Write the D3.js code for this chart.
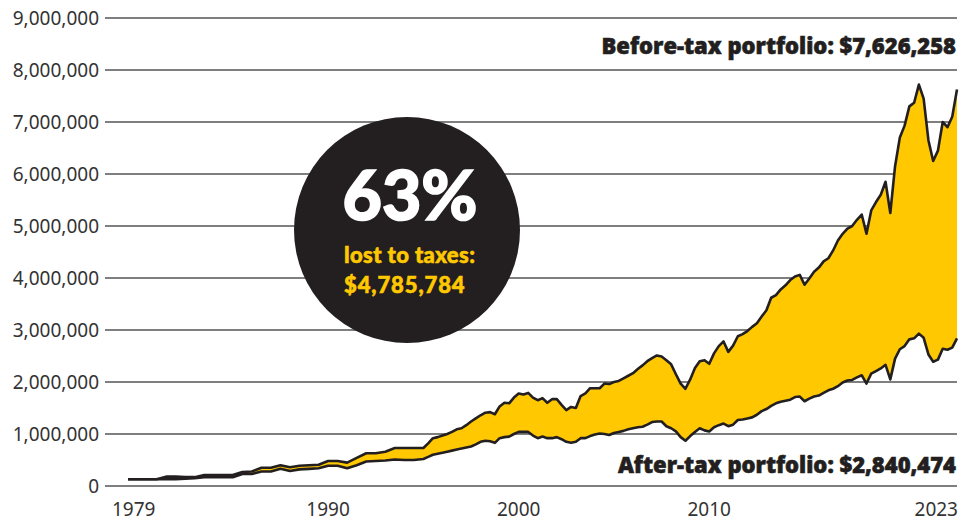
<!DOCTYPE html>
<html>
<head>
<meta charset="utf-8">
<script src="https://cdn.jsdelivr.net/npm/d3@7"></script>
<style>
  body { margin: 0; background: #fff; }
</style>
</head>
<body>
<svg width="966" height="521" font-family="Noto Sans, sans-serif"></svg>
<script>
// half-yearly to 1994, then quarterly (decimal years)
const years = [
  1979.5, 1980, 1980.5, 1981, 1981.5, 1982, 1982.5, 1983, 1983.5, 1984, 1984.5,
  1985, 1985.5, 1986, 1986.5, 1987, 1987.5, 1988, 1988.5, 1989, 1989.5,
  1990, 1990.5, 1991, 1991.5, 1992, 1992.5, 1993, 1993.5, 1994, 1994.5,
  1995, 1995.25, 1995.5, 1995.75, 1996, 1996.25, 1996.5, 1996.75,
  1997, 1997.25, 1997.5, 1997.75, 1998, 1998.25, 1998.5, 1998.75,
  1999, 1999.25, 1999.5, 1999.75, 2000, 2000.25, 2000.5, 2000.75,
  2001, 2001.25, 2001.5, 2001.75, 2002, 2002.25, 2002.5, 2002.75,
  2003, 2003.25, 2003.5, 2003.75, 2004, 2004.25, 2004.5, 2004.75,
  2005, 2005.25, 2005.5, 2005.75, 2006, 2006.25, 2006.5, 2006.75,
  2007, 2007.25, 2007.5, 2007.75, 2008, 2008.25, 2008.5, 2008.75,
  2009, 2009.25, 2009.5, 2009.75, 2010, 2010.25, 2010.5, 2010.75,
  2011, 2011.25, 2011.5, 2011.75, 2012, 2012.25, 2012.5, 2012.75,
  2013, 2013.25, 2013.5, 2013.75, 2014, 2014.25, 2014.5, 2014.75,
  2015, 2015.25, 2015.5, 2015.75, 2016, 2016.25, 2016.5, 2016.75,
  2017, 2017.25, 2017.5, 2017.75, 2018, 2018.25, 2018.5, 2018.75,
  2019, 2019.25, 2019.5, 2019.75, 2020, 2020.25, 2020.5, 2020.75,
  2021, 2021.25, 2021.5, 2021.75, 2022, 2022.25, 2022.5, 2022.75,
  2023
];

// portfolio values, millions of dollars
const beforeTax = [
  .13, .13, .13, .13, .18, .18, .17, .17, .21, .21, .21,
  .21, .27, .28, .35, .35, .40, .36, .39, .40, .41,
  .48, .48, .45, .54, .63, .63, .66, .73, .73, .73,
  .73, .82, .92, .94, .97, 1.00, 1.04, 1.09,
  1.11, 1.17, 1.24, 1.30, 1.36, 1.41, 1.42, 1.38,
  1.53, 1.60, 1.59, 1.70, 1.78, 1.76, 1.79, 1.70,
  1.65, 1.69, 1.60, 1.67, 1.67, 1.56, 1.46, 1.52,
  1.50, 1.73, 1.78, 1.88, 1.88, 1.88, 1.97, 1.96,
  2.00, 2.02, 2.07, 2.12, 2.17, 2.25, 2.32, 2.40,
  2.46, 2.51, 2.49, 2.42, 2.34, 2.15, 1.97, 1.87,
  2.05, 2.27, 2.40, 2.42, 2.35, 2.55, 2.69, 2.78,
  2.58, 2.70, 2.88, 2.92, 2.98, 3.06, 3.13, 3.26,
  3.38, 3.62, 3.67, 3.78, 3.86, 3.96, 4.03, 4.06,
  3.87, 3.99, 4.12, 4.20, 4.32, 4.38, 4.53, 4.72,
  4.85, 4.95, 5.00, 5.12, 5.22, 4.85, 5.30, 5.46,
  5.60, 5.85, 5.25, 6.15, 6.70, 6.93, 7.30, 7.37,
  7.72, 7.45, 6.65, 6.25, 6.45, 7.00, 6.90, 7.10,
  7.626
];

const afterTax = [
  .13, .13, .13, .13, .13, .13, .14, .15, .17, .17, .17,
  .17, .23, .23, .28, .28, .33, .29, .32, .33, .34,
  .39, .39, .34, .40, .47, .48, .49, .51, .50, .50,
  .52, .56, .60, .62, .64, .66, .68, .70,
  .72, .74, .76, .80, .85, .87, .86, .83,
  .92, .94, .95, 1.00, 1.04, 1.04, 1.04, .97,
  .92, .95, .92, .92, .94, .90, .85, .83,
  .85, .92, .92, .96, .99, 1.01, 1.00, .98,
  1.02, 1.04, 1.06, 1.09, 1.11, 1.13, 1.14, 1.18,
  1.23, 1.24, 1.24, 1.15, 1.11, 1.05, .94, .87,
  .96, 1.04, 1.11, 1.07, 1.05, 1.13, 1.17, 1.20,
  1.15, 1.18, 1.27, 1.28, 1.30, 1.32, 1.37, 1.44,
  1.48, 1.54, 1.59, 1.62, 1.64, 1.66, 1.71, 1.72,
  1.63, 1.68, 1.72, 1.74, 1.79, 1.84, 1.87, 1.92,
  1.99, 2.03, 2.04, 2.09, 2.13, 1.97, 2.16, 2.21,
  2.26, 2.33, 2.05, 2.45, 2.63, 2.69, 2.82, 2.84,
  2.93, 2.85, 2.53, 2.39, 2.43, 2.64, 2.62, 2.66,
  2.840
];

const yTicks = [0, 1, 2, 3, 4, 5, 6, 7, 8, 9];
const xTickYears = [1979, 1990, 2000, 2010, 2023];

const yellow = "#ffc800";
const ink = "#231f20";
const heavy = "'Open Sans', 'Noto Sans', sans-serif";
const round = "Lato, 'Noto Sans', sans-serif";

const svg = d3.select("svg");

const x = d3.scaleLinear()
  .domain([years[0], years[years.length - 1]])
  .range([128, 957]);

const y = d3.scaleLinear()
  .domain([0, 9])
  .range([486, 18]);

const data = years.map((yr, i) => ({ year: yr, b: beforeTax[i], a: afterTax[i] }));

// gridlines + y labels
svg.selectAll(".grid")
  .data(yTicks)
  .enter()
  .append("line")
  .attr("class", "grid")
  .attr("x1", 105)
  .attr("x2", 957)
  .attr("y1", d => y(d))
  .attr("y2", d => y(d))
  .attr("stroke", "#555")
  .attr("stroke-width", 1.3);

svg.selectAll(".ylab")
  .data(yTicks)
  .enter()
  .append("text")
  .attr("class", "ylab")
  .attr("x", 99)
  .attr("y", d => y(d))
  .attr("dy", "0.36em")
  .attr("text-anchor", "end")
  .attr("font-size", 19)
  .attr("fill", "#333")
  .text(d => d3.format(",")(d * 1e6));

// x labels, end ones pinned to the data edges
svg.selectAll(".xlab")
  .data(xTickYears)
  .enter()
  .append("text")
  .attr("class", "xlab")
  .attr("x", (d, i) => {
    if (i == 0) return x.range()[0] - 16;
    if (i == xTickYears.length - 1) return x.range()[1] + 1;
    return x(d);
  })
  .attr("y", 516)
  .attr("text-anchor", (d, i) => i == 0 ? "start" : (i == xTickYears.length - 1 ? "end" : "middle"))
  .attr("font-size", 19)
  .attr("fill", "#333")
  .text(d => d);

// band between the two portfolios
const area = d3.area()
  .x(d => x(d.year))
  .y0(d => y(d.a))
  .y1(d => y(d.b));

svg.append("path")
  .datum(data)
  .attr("d", area)
  .attr("fill", yellow);

const lineB = d3.line().x(d => x(d.year)).y(d => y(d.b));
const lineA = d3.line().x(d => x(d.year)).y(d => y(d.a));

[lineA, lineB].forEach(l => {
  svg.append("path")
    .datum(data)
    .attr("d", l)
    .attr("fill", "none")
    .attr("stroke", ink)
    .attr("stroke-width", 2.6)
    .attr("stroke-linejoin", "round");
});

// end labels
svg.append("text")
  .attr("x", 956)
  .attr("y", 54)
  .attr("text-anchor", "end")
  .attr("font-family", heavy)
  .attr("font-weight", 800)
  .attr("font-size", 22)
  .attr("fill", ink)
  .attr("stroke", ink)
  .attr("stroke-width", 0.6)
  .text("Before-tax portfolio: $7,626,258");

svg.append("text")
  .attr("x", 956)
  .attr("y", 473)
  .attr("text-anchor", "end")
  .attr("font-family", heavy)
  .attr("font-weight", 800)
  .attr("font-size", 22)
  .attr("fill", ink)
  .attr("stroke", ink)
  .attr("stroke-width", 0.6)
  .text("After-tax portfolio: $2,840,474");

// callout circle
svg.append("circle")
  .attr("cx", 407)
  .attr("cy", 230)
  .attr("r", 113)
  .attr("fill", ink);

svg.append("text")
  .attr("x", 410)
  .attr("y", 220)
  .attr("text-anchor", "middle")
  .attr("font-family", round)
  .attr("font-weight", 900)
  .attr("font-size", 68)
  .attr("fill", "#fff")
  .attr("stroke", "#fff")
  .attr("stroke-width", 1.6)
  .text("63%");

svg.append("text")
  .attr("x", 344)
  .attr("y", 263)
  .attr("font-family", round)
  .attr("font-weight", 900)
  .attr("font-size", 22)
  .attr("letter-spacing", 0.4)
  .attr("fill", yellow)
  .attr("stroke", yellow)
  .attr("stroke-width", 0.6)
  .text("lost to taxes:");

svg.append("text")
  .attr("x", 344)
  .attr("y", 293)
  .attr("font-family", round)
  .attr("font-weight", 900)
  .attr("font-size", 22)
  .attr("letter-spacing", 0.9)
  .attr("fill", yellow)
  .attr("stroke", yellow)
  .attr("stroke-width", 0.6)
  .text("$4,785,784");
</script>
</body>
</html>
